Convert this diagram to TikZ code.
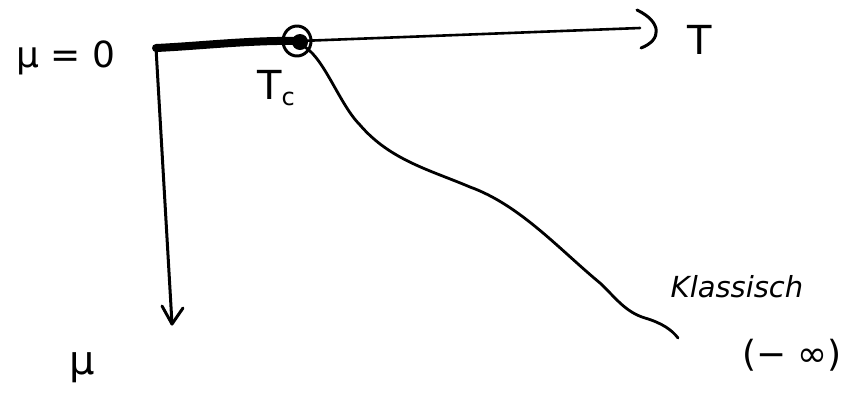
\documentclass[tikz,border=0pt]{standalone}
\usepackage{fontspec}
\setmainfont{DejaVu Sans}
\begin{document}
\begin{tikzpicture}[x=1pt,y=-1pt,
  ink/.style={line width=3pt,line cap=round,line join=round},
  lbl/.style={font=\fontsize{30}{34}\selectfont}]
\useasboundingbox (0,0) rectangle (851,400);
\coordinate (O) at (156,48);
\coordinate (Tc) at (300,41);
\coordinate (Tend) at (640,28);
\coordinate (Mend) at (172,324);
\coordinate (Kend) at (678,338);
% axes
\draw[ink] (O) -- (Mend);
\draw[ink] (162,306) -- (Mend) -- (183,308);
\draw[ink,line width=2.6pt] (Tc) -- (Tend);
\draw[ink] (637,10) .. controls (662,22) and (662,40) .. (641,48);
\draw[line width=8pt,line cap=round] (O) .. controls (200,46) and (250,40) .. (Tc);
% critical point
\draw[ink] (297,41) ellipse [x radius=14,y radius=15];
\fill (300,42) circle [radius=8];
% curve
\draw[ink,line width=2.8pt] (305,47) .. controls (325,60) and (340,105) .. (360,125)
  .. controls (390,160) and (430,170) .. (470,187)
  .. controls (520,205) and (560,250) .. (600,283)
  .. controls (615,297) and (625,312) .. (645,318)
  .. controls (662,323) and (672,330) .. (Kend);
% labels
\node[lbl,font=\fontsize{36}{40}\selectfont] (mu0) at (66,58) {μ = 0};
\node[lbl,font=\fontsize{40}{44}\selectfont] (T) at (700,40) {T};
\node[lbl,font=\fontsize{40}{44}\selectfont] (TcL) at (276,88) {T\raisebox{-6pt}{\fontsize{24}{26}\selectfont c}};
\node[lbl,font=\fontsize{40}{44}\selectfont] (mu) at (82,368) {μ};
\node[lbl,font=\fontsize{29}{32}\selectfont\itshape] (kl) at (737,287) {Klassisch};
\node[lbl,font=\fontsize{36}{40}\selectfont] (minf) at (792,355) {(− ∞)};
\end{tikzpicture}
\end{document}
